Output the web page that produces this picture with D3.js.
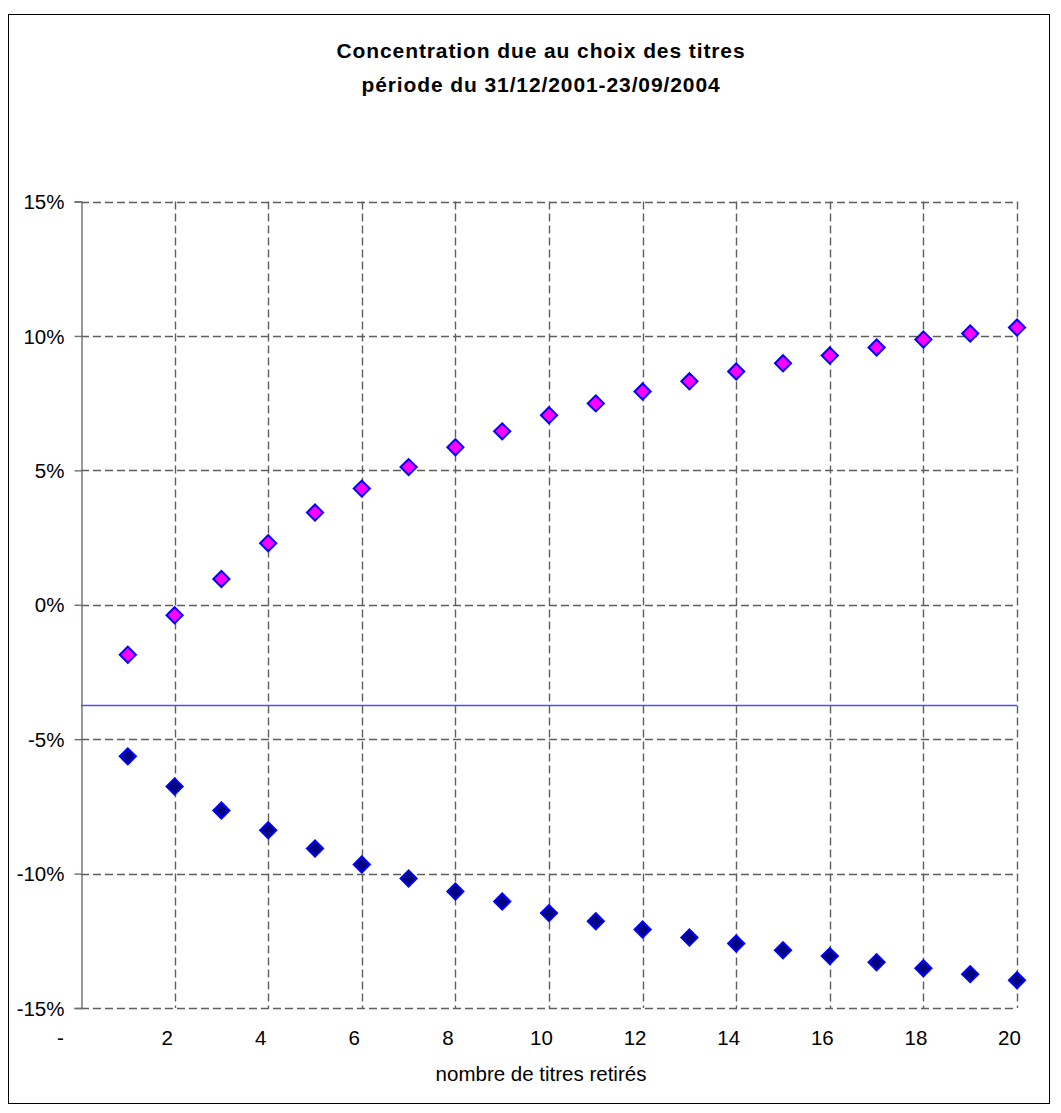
<!DOCTYPE html>
<html><head><meta charset="utf-8">
<script src="https://cdn.jsdelivr.net/npm/d3@7"></script>
<style>
body{margin:0;background:#fff;}
text{font-family:"Liberation Sans",Arial,sans-serif;fill:#000;}
</style></head>
<body><svg id="c" width="1061" height="1113"></svg>
<script>
const titleLines = ["Concentration due au choix des titres", "période du 31/12/2001-23/09/2004"];
const xAxisTitle = "nombre de titres retirés";
const xValues = [1,2,3,4,5,6,7,8,9,10,11,12,13,14,15,16,17,18,19,20];
const upperSeries = [-1.86,-0.39,0.96,2.29,3.43,4.32,5.12,5.86,6.45,7.05,7.49,7.93,8.31,8.68,8.98,9.27,9.57,9.87,10.09,10.31];
const lowerSeries = [-5.64,-6.76,-7.65,-8.39,-9.07,-9.66,-10.18,-10.67,-11.04,-11.47,-11.77,-12.08,-12.38,-12.60,-12.85,-13.07,-13.30,-13.52,-13.74,-13.97];
const referenceLevel = -3.72;
const yTicks = [-15,-10,-5,0,5,10,15];
const xTicks = [0,2,4,6,8,10,12,14,16,18,20];
const xTickLabels = ["-","2","4","6","8","10","12","14","16","18","20"];

const svg = d3.select("#c");
const L = 81, R = 1017, T = 201.5, B = 1008;
const x = d3.scaleLinear().domain([0,20]).range([L,R]);
const y = d3.scaleLinear().domain([-15,15]).range([B,T]);

svg.append("rect").attr("x",8.5).attr("y",14.5).attr("width",1041).attr("height",1089)
  .attr("fill","#fff").attr("stroke","#000").attr("stroke-width",1);

// title
titleLines.forEach((t,i)=>{
  svg.append("text").attr("x",541).attr("y",58+i*34).attr("text-anchor","middle")
    .attr("font-size",21).attr("font-weight","bold").attr("letter-spacing","0.9px").text(t);
});

const grid = svg.append("g");
grid.selectAll("line.h").data(yTicks).join("line")
  .attr("x1",L).attr("x2",R).attr("y1",d=>Math.round(y(d))+0.5).attr("y2",d=>Math.round(y(d))+0.5)
  .attr("stroke","#5e5e5e").attr("stroke-width",1.4).attr("stroke-dasharray","8,4");
grid.selectAll("line.v").data(xTicks.filter(d=>d>0)).join("line")
  .attr("y1",T).attr("y2",B).attr("x1",d=>Math.round(x(d))+0.5).attr("x2",d=>Math.round(x(d))+0.5)
  .attr("stroke","#5e5e5e").attr("stroke-width",1.4).attr("stroke-dasharray","8,4");

// y axis
const yAxis = d3.axisLeft(y).tickValues(yTicks).tickSize(7).tickPadding(10)
  .tickFormat(d=>d+"%");
const gy = svg.append("g").attr("transform",`translate(${L+0.5},0)`).call(yAxis);
gy.select(".domain").attr("stroke","#6e6e6e").attr("stroke-width",1.4);
gy.selectAll(".tick line").attr("stroke","#6e6e6e").attr("stroke-width",1.4);
gy.selectAll(".tick text").attr("font-size",20.5).attr("font-family","Liberation Sans, Arial, sans-serif").attr("fill","#000").attr("dy","0.35em");

// x axis labels (low position)
const xAxis = d3.axisBottom(x).tickValues(xTicks).tickSize(0).tickPadding(0)
  .tickFormat((d,i)=>xTickLabels[i]);
const gx = svg.append("g").attr("transform",`translate(0,${B})`).call(xAxis);
gx.select(".domain").remove();
gx.selectAll(".tick text").attr("font-size",20.5).attr("font-family","Liberation Sans, Arial, sans-serif").attr("fill","#000")
  .attr("dy",null).attr("y",37).attr("dx",d=>d===0?-21:-8);

// horizontal axis crossing line
svg.append("line").attr("x1",L).attr("x2",R)
  .attr("y1",Math.round(y(referenceLevel))+0.5).attr("y2",Math.round(y(referenceLevel))+0.5)
  .attr("stroke","#4d4dff").attr("stroke-width",1.3);

// x axis title
svg.append("text").attr("x",541).attr("y",1081).attr("text-anchor","middle").attr("font-size",20.5).text(xAxisTitle);

// markers
function drawSeries(vals, fill){
  svg.append("g").selectAll("path").data(vals).join("path")
    .attr("transform",(d,i)=>`translate(${x(xValues[i])},${y(d)}) rotate(45)`)
    .attr("d",d3.symbol().type(d3.symbolSquare).size(130))
    .attr("fill",fill).attr("stroke","#0000ff").attr("stroke-width",2);
}
drawSeries(upperSeries,"#ff00ff");
drawSeries(lowerSeries,"#000080");
</script></body></html>
